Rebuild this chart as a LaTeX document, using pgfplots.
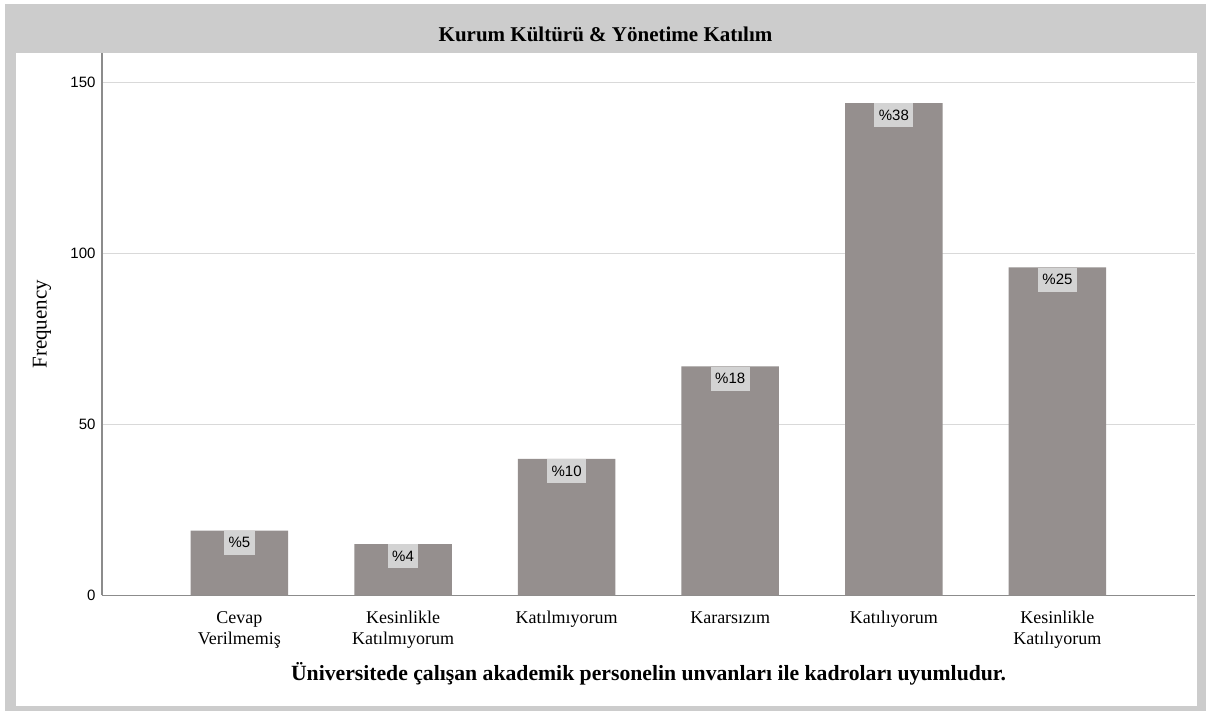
\documentclass[border=0pt]{standalone}
\usepackage{fontspec}
\setmainfont{Liberation Serif}
\setsansfont{Liberation Sans}
\usepackage{pgfplots}
\pgfplotsset{compat=1.18}
\definecolor{framegray}{HTML}{CCCCCC}
\definecolor{bargray}{HTML}{958F8E}
\definecolor{boxgray}{HTML}{D3D3D3}
\definecolor{gridgray}{HTML}{D9D9D9}
\definecolor{axisgray}{HTML}{8C8C8C}
\begin{document}
\begin{tikzpicture}[x=1pt,y=1pt]
\path[use as bounding box] (0,0) rectangle (1208,711);
\fill[framegray] (5,0) rectangle (1206,707);
\fill[white] (16,5) rectangle (1196.5,658);
\node[font=\fontsize{21}{24}\selectfont\bfseries, anchor=base] at (605.5,669.3) {Kurum Kültürü \& Yönetime Katılım};
\begin{axis}[
  at={(102pt,115.5pt)}, anchor=south west,
  scale only axis, width=1093pt, height=542.5pt,
  xmin=-0.84, xmax=5.841, ymin=0, ymax=158.7,
  ybar, bar width=97.5pt,
  separate axis lines,
  axis x line*=bottom, axis y line*=left,
  axis line style={axisgray, line width=1.2pt, -},
  ytick={0,50,100,150},
  ymajorgrids, grid style={gridgray, line width=1.5pt},
  major tick length=0pt,
  xtick={0,1,2,3,4,5},
  xticklabels={{\strut Cevap\\Verilmemiş},{\strut Kesinlikle\\Katılmıyorum},{\strut Katılmıyorum},{\strut Kararsızım},{\strut Katılıyorum},{\strut Kesinlikle\\Katılıyorum}},
  xticklabel style={align=center, font=\fontsize{18}{21}\selectfont, yshift=-10pt},
  yticklabel style={font=\sffamily\fontsize{15}{18}\selectfont, xshift=-3pt, /pgf/number format/assume math mode=true},
  every axis x label/.style={at={(axis description cs:0.5,0)}, anchor=base, yshift=-85.2pt, font=\fontsize{21.7}{24}\selectfont\bfseries},
  every axis y label/.style={at={(axis description cs:0,0.5)}, anchor=center, xshift=-60pt, rotate=90, font=\fontsize{21}{24}\selectfont},
  xlabel={Üniversitede çalışan akademik personelin unvanları ile kadroları uyumludur.},
  ylabel={Frequency},
  point meta=explicit symbolic,
  nodes near coords={\%\pgfplotspointmeta},
  every node near coord/.append style={anchor=north, fill=boxgray, font=\sffamily\fontsize{15}{18}\selectfont, inner xsep=4.5pt, minimum height=24pt, text=black},
]
\addplot[fill=bargray, draw=none] coordinates {
  (0,19) [5]
  (1,15) [4]
  (2,40) [10]
  (3,67) [18]
  (4,144) [38]
  (5,96) [25]
};
\end{axis}
\end{tikzpicture}
\end{document}
